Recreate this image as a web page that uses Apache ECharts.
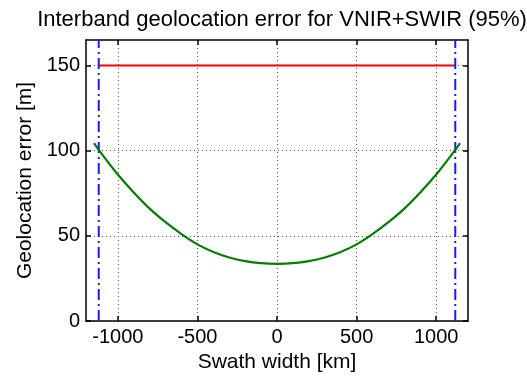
<!DOCTYPE html>
<html><head><meta charset="utf-8">
<script src="https://cdn.jsdelivr.net/npm/echarts@6/dist/echarts.min.js"></script>
<style>html,body{margin:0;padding:0;background:#fff}#c{width:527px;height:378px}</style>
</head><body><div id="c"></div>
<script>
const titleText = 'Interband geolocation error for VNIR+SWIR (95%)';
const xName = 'Swath width [km]';
const yName = 'Geolocation error [m]';
const xTicks = [-1000, -500, 0, 500, 1000];
const yTicks = [0, 50, 100, 150];
const swathX = [-1150, -1100, -1000, -900, -800, -700, -600, -500, -400, -300, -200, -100, 0, 100, 200, 300, 400, 500, 600, 700, 800, 900, 1000, 1100, 1150];
const errorY = [104.5, 98, 86, 75.5, 66, 58, 51, 45, 40.5, 37.3, 35.2, 34, 33.6, 34, 35.2, 37.3, 40.5, 45, 51, 58, 66, 75.5, 86, 98, 104.5];
const requirementX = [-1120, 1120];
const requirementY = [150, 150];
const edgeX = [-1120, 1120];
const yRange = [0, 165];
const xRange = [-1200, 1200];

const font = 'Liberation Sans';
const chart = echarts.init(document.getElementById('c'));
const grid = {left: 86, right: 59, top: 40, bottom: 56, show: false};
const dotted = {show: true, lineStyle: {color: '#555', width: 1, type: [1, 3]}};
function xAxisBase(pos, main) {
  return {
    type: 'value', position: pos, min: xRange[0], max: xRange[1],
    axisLine: {show: true, onZero: false, lineStyle: {color: '#000', width: 1.5}},
    axisTick: {show: true, inside: true, length: 5, customValues: xTicks, lineStyle: {color: '#000', width: 1.5}},
    axisLabel: {show: main, customValues: xTicks, color: '#000', fontFamily: font, fontSize: 20, margin: 6,
      formatter: v => String(v)},
    splitLine: main ? dotted : {show: false},
    name: main ? xName : '', nameLocation: 'middle', nameGap: 31,
    nameTextStyle: {color: '#000', fontFamily: font, fontSize: 21}
  };
}
function yAxisBase(pos, main) {
  return {
    type: 'value', position: pos, min: yRange[0], max: yRange[1],
    axisLine: {show: true, onZero: false, lineStyle: {color: '#000', width: 1.5}},
    axisTick: {show: true, inside: true, length: 5, customValues: yTicks, lineStyle: {color: '#000', width: 1.5}},
    axisLabel: {show: main, customValues: yTicks, color: '#000', fontFamily: font, fontSize: 20, margin: 6,
      formatter: v => String(v)},
    splitLine: main ? dotted : {show: false},
    name: main ? yName : '', nameLocation: 'middle', nameGap: 50,
    nameTextStyle: {color: '#000', fontFamily: font, fontSize: 21}
  };
}
const green = swathX.map((x, i) => [x, errorY[i]]);
const red = requirementX.map((x, i) => [x, requirementY[i]]);
const blueSeries = edgeX.map(x => ({
  type: 'line', xAxisIndex: 0, yAxisIndex: 0, symbol: 'none', silent: true,
  data: [[x, yRange[0]], [x, yRange[1]]],
  lineStyle: {color: '#1a1aff', width: 2, type: [11, 4, 2, 4]}
}));
chart.setOption({
  animation: false,
  backgroundColor: '#fff',
  title: {text: titleText, left: 277, textAlign: 'center', top: 4,
    textStyle: {color: '#000', fontFamily: font, fontSize: 22, fontWeight: 'normal'}},
  grid: grid,
  xAxis: [xAxisBase('bottom', true), xAxisBase('top', false)],
  yAxis: [yAxisBase('left', true), yAxisBase('right', false)],
  series: [
    {type: 'line', symbol: 'none', data: red, lineStyle: {color: '#ff0000', width: 2}},
    ...blueSeries,
    {type: 'line', symbol: 'none', smooth: 0.3, data: green, lineStyle: {color: '#008000', width: 2.2}}
  ]
});
</script></body></html>
